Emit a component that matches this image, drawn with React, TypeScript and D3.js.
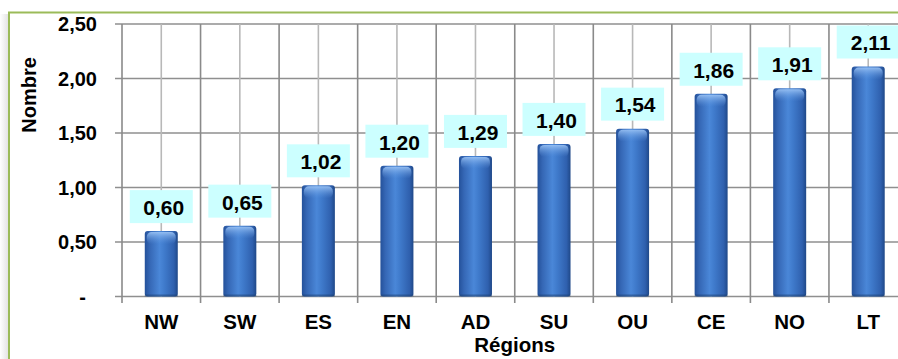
import React from "react";
import * as d3 from "d3";

const categories = ["NW", "SW", "ES", "EN", "AD", "SU", "OU", "CE", "NO", "LT"];
const values = [0.6, 0.65, 1.02, 1.2, 1.29, 1.4, 1.54, 1.86, 1.91, 2.11];
const yTicks = [0, 0.5, 1, 1.5, 2, 2.5];
const yTickLabels = ["-", "0,50", "1,00", "1,50", "2,00", "2,50"];
const xTitle = "Régions";
const yTitle = "Nombre";

const W = 898;
const H = 359;
const left = 122;
const top = 24;
const zeroY = 296.5;
const bandW = 78.55;

export default function App() {
  const x = d3
    .scaleBand<string>()
    .domain(categories)
    .range([left, left + bandW * categories.length])
    .padding(0);
  const y = d3.scaleLinear().domain([0, 2.5]).range([zeroY, top]);
  const barW = 33;
  const font = "'Liberation Sans', Arial, sans-serif";
  const fmt = (v: number) => v.toFixed(2).replace(".", ",");
  const rightEdge = left + bandW * categories.length;

  return (
    <svg
      width={W}
      height={H}
      style={{ position: "absolute", left: 0, top: 0 }}
      fontFamily={font}
    >
      <defs>
        <linearGradient id="barH" x1="0" x2="1" y1="0" y2="0">
          <stop offset="0" stopColor="#24519a" />
          <stop offset="0.15" stopColor="#3567b5" />
          <stop offset="0.45" stopColor="#4a87d8" />
          <stop offset="0.6" stopColor="#3f7acb" />
          <stop offset="0.88" stopColor="#2f60ae" />
          <stop offset="1" stopColor="#1f4888" />
        </linearGradient>
        <linearGradient id="capG" x1="0" x2="0" y1="0" y2="1">
          <stop offset="0" stopColor="#9cc4f5" stopOpacity="0.9" />
          <stop offset="1" stopColor="#5d95df" stopOpacity="0" />
        </linearGradient>
        <linearGradient id="shadowL" x1="0" x2="1" y1="0" y2="0">
          <stop offset="0" stopColor="#ffffff" />
          <stop offset="1" stopColor="#e4e4e4" />
        </linearGradient>
      </defs>
      <rect x={0} y={0} width={W} height={H} fill="#ffffff" />
      <rect x={0} y={14} width={8} height={H} fill="url(#shadowL)" />
      <rect x={9} y={13} width={W} height={H} fill="#ffffff" />
      <line x1={9} x2={9} y1={12.5} y2={H} stroke="#9bbb59" strokeWidth={2} />
      <line x1={8} x2={W} y1={12.5} y2={12.5} stroke="#9bbb59" strokeWidth={2} />

      {/* horizontal gridlines */}
      {yTicks.map((t) => (
        <line
          key={"h" + t}
          x1={left - 7}
          x2={rightEdge}
          y1={y(t)}
          y2={y(t)}
          stroke="#8f8f8f"
          strokeWidth={1.6}
        />
      ))}
      {/* vertical center lines */}
      {categories.map((c) => (
        <line
          key={"vc" + c}
          x1={(x(c) as number) + x.bandwidth() / 2}
          x2={(x(c) as number) + x.bandwidth() / 2}
          y1={top}
          y2={zeroY}
          stroke="#b8b8b8"
          strokeWidth={1.6}
        />
      ))}
      {/* vertical boundary lines */}
      {categories.concat(["__end"]).map((c, i) => {
        const xx = left + i * x.bandwidth();
        return (
          <line
            key={"vb" + i}
            x1={xx}
            x2={xx}
            y1={top}
            y2={zeroY + 6.5}
            stroke="#8a8a8a"
            strokeWidth={1.6}
          />
        );
      })}

      {/* y tick labels */}
      {yTicks.map((t, i) => (
        <text
          key={"yl" + t}
          x={t === 0 ? 86 : 97}
          y={y(t)}
          dy="0.35em"
          textAnchor="end"
          fontSize={20}
          fontWeight="bold"
          fill="#000"
        >
          {yTickLabels[i]}
        </text>
      ))}

      {/* bars */}
      {categories.map((c, i) => {
        const cx = (x(c) as number) + x.bandwidth() / 2;
        const yt = y(values[i]);
        const h = zeroY - yt;
        return (
          <g key={"b" + c}>
            <rect x={cx - barW / 2} y={yt} width={barW} height={h} rx={3} fill="url(#barH)" />
            <rect
              x={cx - barW / 2 + 2}
              y={yt + 1}
              width={barW - 4}
              height={Math.min(12, h - 2)}
              rx={5}
              fill="url(#capG)"
            />
            <rect
              x={cx - barW / 2}
              y={zeroY - 2}
              width={barW}
              height={2}
              fill="#1e3f70"
              opacity={0.5}
            />
          </g>
        );
      })}

      {/* value labels */}
      {categories.map((c, i) => {
        const cx = (x(c) as number) + x.bandwidth() / 2;
        const yt = y(values[i]);
        const bh = 33;
        const by = yt - 8 - bh;
        return (
          <g key={"v" + c}>
            <rect x={cx - 31.5} y={by} width={63} height={bh} fill="#ccffff" />
            <text
              x={cx + 2.5}
              y={by + bh / 2 + 1}
              dy="0.35em"
              textAnchor="middle"
              fontSize={21}
              fontWeight="bold"
              fill="#000"
            >
              {fmt(values[i])}
            </text>
          </g>
        );
      })}

      {/* category labels */}
      {categories.map((c) => (
        <text
          key={"xl" + c}
          x={(x(c) as number) + x.bandwidth() / 2}
          y={328.5}
          textAnchor="middle"
          fontSize={20.5}
          fontWeight="bold"
          fill="#000"
        >
          {c}
        </text>
      ))}

      <text
        x={left + (bandW * categories.length) / 2}
        y={351.5}
        textAnchor="middle"
        fontSize={20.5}
        fontWeight="bold"
        fill="#000"
      >
        {xTitle}
      </text>
      <text
        transform={`translate(36,95) rotate(-90)`}
        textAnchor="middle"
        fontSize={20}
        fontWeight="bold"
        fill="#000"
      >
        {yTitle}
      </text>
    </svg>
  );
}
